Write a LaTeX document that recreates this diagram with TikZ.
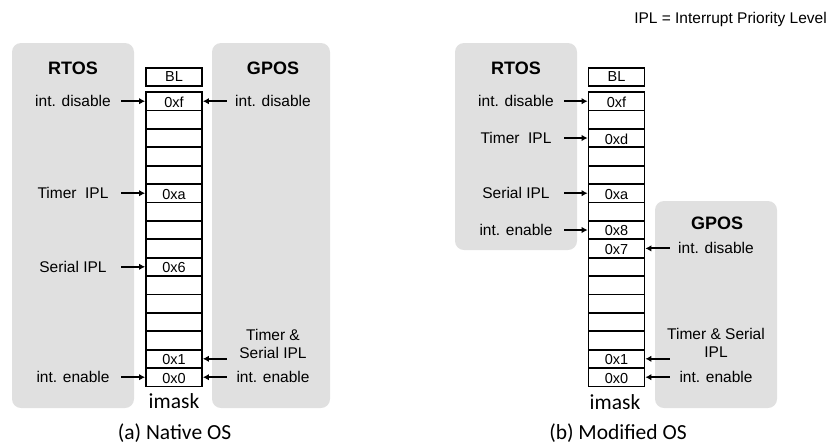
\documentclass[tikz,border=0pt]{standalone}
\usepackage{fontspec}
\setmainfont{Liberation Sans}
\newfontfamily\capfont{Carlito}
\usetikzlibrary{arrows.meta}
\definecolor{boxgray}{HTML}{E0E0E0}
\tikzset{
  osbox/.style={fill=boxgray, draw=none, rounded corners=9pt},
  ostitle/.style={font=\fontsize{18}{20}\selectfont\bfseries, inner sep=0pt},
  cell/.style={draw=black, line width=1.8pt, minimum width=56pt, minimum height=18.4pt, inner sep=0pt, font=\fontsize{14.5}{15}\selectfont},
  celltext/.style={font=\fontsize{14.5}{15}\selectfont, inner sep=0pt, yshift=-1pt},
  llab/.style={font=\fontsize{15.5}{17.5}\selectfont, minimum width=96pt, inner sep=0pt, align=center},
  rlab/.style={font=\fontsize{15.5}{17.5}\selectfont, minimum width=92pt, inner sep=0pt, align=center},
  arr/.style={line width=2pt, -{Latex[length=6pt,width=6.5pt]}},
  capt/.style={font=\capfont\fontsize{21.5}{24}\selectfont, inner sep=0pt},
}
\begin{document}
\begin{tikzpicture}[x=1pt,y=-1pt]
\useasboundingbox (0,0) rectangle (830,445);
% legend
\node[font=\fontsize{15.5}{17}\selectfont, anchor=east, inner sep=0pt] (legend) at (827,19) {IPL = Interrupt Priority Level};

% ===== (a) Native OS =====
\fill[osbox] (12,43) rectangle (134,408);
\fill[osbox] (212,43) rectangle (330,408);
\node[ostitle] (aRT) at (73,68) {RTOS};
\node[ostitle] (aGP) at (273,68) {GPOS};
\node[cell] (aBL) at (174,76.8) {BL};
\foreach \i in {0,...,15} {
  \node[cell] (a\i) at (174,{92+18.4*\i+9.2}) {};
}
\node[celltext] at (a0) {0xf};
\node[celltext] at (a5) {0xa};
\node[celltext] at (a9) {0x6};
\node[celltext] at (a14) {0x1};
\node[celltext] at (a15) {0x0};
% RTOS labels
\node[llab] (aL0) at (73,0 |- a0) {int. disable};
\node[llab] (aL5) at (73,0 |- a5) {Timer\ \ IPL};
\node[llab] (aL9) at (73,0 |- a9) {Serial IPL};
\node[llab] (aL15) at (73,0 |- a15) {int. enable};
\draw[arr] (aL0.east) -- (a0.west);
\draw[arr] (aL5.east) -- (a5.west);
\draw[arr] (aL9.east) -- (a9.west);
\draw[arr] (aL15.east) -- (a15.west);
% GPOS labels
\node[rlab] (aR0) at (273,0 |- a0) {int. disable};
\node[rlab] (aR14) at (273,344) {Timer \&\\Serial IPL};
\node[rlab] (aR15) at (273,0 |- a15) {int. enable};
\draw[arr] (aR0.west) -- (a0.east);
\draw[arr] (aR14.west |- a14.east) -- (a14.east);
\draw[arr] (aR15.west) -- (a15.east);
\node[capt] (aim) at (174,401) {imask};
\node[capt] (acap) at (174.5,433) {(a) Native OS};

% ===== (b) Modified OS =====
\fill[osbox] (455,43) rectangle (577,250);
\fill[osbox] (655,201) rectangle (777,408);
\node[ostitle] (bRT) at (516,68) {RTOS};
\node[ostitle] (bGP) at (717,223) {GPOS};
\node[cell] (bBL) at (616.5,76.8) {BL};
\foreach \i in {0,...,15} {
  \node[cell] (b\i) at (616.5,{92+18.4*\i+9.2}) {};
}
\node[celltext] at (b0) {0xf};
\node[celltext] at (b2) {0xd};
\node[celltext] at (b5) {0xa};
\node[celltext] at (b7) {0x8};
\node[celltext] at (b8) {0x7};
\node[celltext] at (b14) {0x1};
\node[celltext] at (b15) {0x0};
% RTOS labels
\node[llab] (bL0) at (516,0 |- b0) {int. disable};
\node[llab] (bL2) at (516,0 |- b2) {Timer\ \ IPL};
\node[llab] (bL5) at (516,0 |- b5) {Serial IPL};
\node[llab] (bL7) at (516,0 |- b7) {int. enable};
\draw[arr] (bL0.east) -- (b0.west);
\draw[arr] (bL2.east) -- (b2.west);
\draw[arr] (bL5.east) -- (b5.west);
\draw[arr] (bL7.east) -- (b7.west);
% GPOS labels
\node[rlab] (bR8) at (716,0 |- b8) {int. disable};
\node[rlab] (bR14) at (716,343) {Timer \& Serial\\IPL};
\node[rlab] (bR15) at (716,0 |- b15) {int. enable};
\draw[arr] (bR8.west) -- (b8.east);
\draw[arr] (bR15.west |- b14.east) -- (b14.east);
\draw[arr] (bR15.west) -- (b15.east);
\node[capt] (bim) at (615,402) {imask};
\node[capt] (bcap) at (618,433) {(b) Modified OS};
\end{tikzpicture}
\end{document}
